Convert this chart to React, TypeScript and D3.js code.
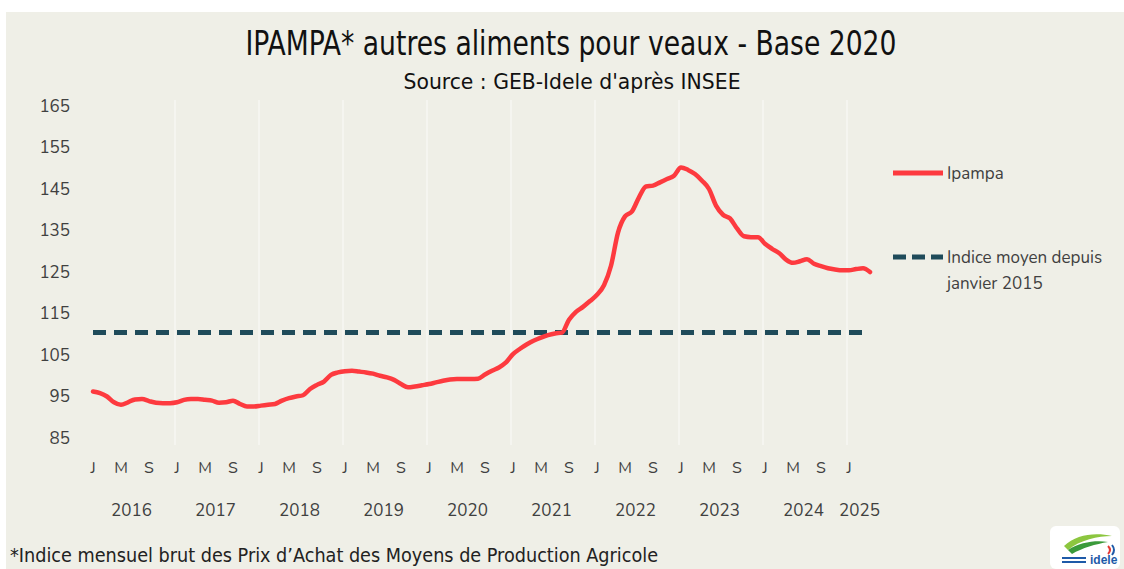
import React from "react";
import * as d3 from "d3";

const title = "IPAMPA* autres aliments pour veaux - Base 2020";
const subtitle = "Source : GEB-Idele d'après INSEE";
const footnote = "*Indice mensuel brut des Prix d\u2019Achat des Moyens de Production Agricole";

const years = [2016, 2017, 2018, 2019, 2020, 2021, 2022, 2023, 2024, 2025];
const monthLetters = ["J", "M", "S"];
const yTicks = [85, 95, 105, 115, 125, 135, 145, 155, 165];

// Monthly index, January 2016 -> April 2025
const ipampa = [
  96.2, 95.8, 95.0, 93.6, 93.0, 93.6, 94.3, 94.4, 93.9, 93.5, 93.4, 93.4,
  93.6, 94.2, 94.4, 94.4, 94.2, 94.0, 93.5, 93.6, 94.0, 93.2, 92.6, 92.6,
  92.8, 93.0, 93.2, 94.0, 94.6, 95.0, 95.3, 96.8, 97.8, 98.6, 100.2, 100.8,
  101.1, 101.2, 101.0, 100.8, 100.5, 100.0, 99.6, 99.0, 98.0, 97.2, 97.4, 97.7,
  98.0, 98.4, 98.8, 99.1, 99.2, 99.2, 99.2, 99.3, 100.3, 101.2, 102.0, 103.2,
  105.2, 106.5, 107.6, 108.5, 109.2, 109.8, 110.2, 110.4, 113.5, 115.4, 116.6, 118.0,
  119.5, 121.8, 126.5, 134.5, 138.4, 139.6, 143.0, 145.6, 145.8, 146.6, 147.4, 148.2,
  150.2, 149.6, 148.6, 147.0, 145.0, 141.0, 138.8, 137.9, 135.5, 133.6, 133.4, 133.4,
  131.8, 130.6, 129.6, 128.0, 127.2, 127.6, 128.1, 127.0, 126.4, 125.9, 125.6, 125.4,
  125.4, 125.7, 125.9, 125.0,
];
const averageIndex = 110.4;
const averageMonths = 111; // dashed mean line drawn Jan 2016 -> Mar 2025

const RED = "#fd3a3f";
const DARK = "#1f4b5a";
const TEXT = "#404040";
const BG = "#efefe7";

export default function App() {
  const x = d3.scaleLinear().domain([0, 111]).range([93, 870]);
  const y = d3.scaleLinear().domain([85, 165]).range([438, 106]);

  const line = d3
    .line<number>()
    .x((_, i) => x(i))
    .y((d) => y(d))
    .curve(d3.curveMonotoneX);

  const avgData = d3.range(averageMonths).map(() => averageIndex);

  const monthTicks = d3.range(0, ipampa.length, 4);

  const axisFont = "Nunito, Lato, 'Open Sans', sans-serif";
  const condFont = "'Liberation Sans Narrow', 'DejaVu Sans Condensed', 'Roboto Condensed', sans-serif";

  return (
    <svg
      width={1124}
      height={569}
      viewBox="0 0 1124 569"
      style={{ position: "absolute", left: 0, top: 0, display: "block" }}
    >
      <rect x={0} y={0} width={1124} height={569} fill="#ffffff" />
      <rect x={6} y={12} width={1118} height={557} fill={BG} />

      {/* vertical year gridlines */}
      {years.slice(1).map((yr, k) => {
        const gx = x((k + 1) * 12) - 2;
        return (
          <line key={yr} x1={gx} x2={gx} y1={100} y2={445} stroke="#ffffff" strokeWidth={1.5} opacity={0.55} />
        );
      })}

      {/* title */}
      <text
        x={571}
        y={55}
        textAnchor="middle"
        fontFamily={condFont}
        fontSize={34}
        fill="#111"
        textLength={651}
        lengthAdjust="spacingAndGlyphs"
      >
        {title}
      </text>
      <text
        x={572}
        y={89}
        textAnchor="middle"
        fontFamily={condFont}
        fontSize={21}
        fill="#111"
        textLength={337}
        lengthAdjust="spacingAndGlyphs"
      >
        {subtitle}
      </text>

      {/* y tick labels */}
      {yTicks.map((t) => (
        <text key={t} x={70} y={y(t)} textAnchor="end" dominantBaseline="central" fontFamily={axisFont} fontSize={17} fill={TEXT}>
          {t}
        </text>
      ))}

      {/* month labels */}
      {monthTicks.map((i) => (
        <text key={i} x={x(i)} y={468} textAnchor="middle" dominantBaseline="central" fontFamily={axisFont} fontSize={16} fill={TEXT}>
          {monthLetters[(i / 4) % 3]}
        </text>
      ))}

      {/* year labels */}
      {years.map((yr, k) => {
        const start = k * 12;
        const end = Math.min(start + 11, ipampa.length - 1);
        return (
          <text key={yr} x={x((start + end) / 2)} y={510} textAnchor="middle" dominantBaseline="central" fontFamily={axisFont} fontSize={17} fill={TEXT}>
            {yr}
          </text>
        );
      })}

      {/* average dashed line */}
      <path d={line(avgData) || ""} fill="none" stroke={DARK} strokeWidth={5} strokeDasharray="13 8" />

      {/* ipampa line */}
      <path d={line(ipampa) || ""} fill="none" stroke={RED} strokeWidth={4.5} strokeLinejoin="round" strokeLinecap="round" />

      {/* legend */}
      <line x1={893} x2={943} y1={173} y2={173} stroke={RED} strokeWidth={5} />
      <text x={947} y={173} dominantBaseline="central" fontFamily={axisFont} fontSize={17} fill={TEXT}>
        Ipampa
      </text>
      <line x1={893} x2={943} y1={257} y2={257} stroke={DARK} strokeWidth={5} strokeDasharray="13 6" />
      <text x={947} y={257} dominantBaseline="central" fontFamily={axisFont} fontSize={17} fill={TEXT}>
        Indice moyen depuis
      </text>
      <text x={947} y={283} dominantBaseline="central" fontFamily={axisFont} fontSize={17} fill={TEXT}>
        janvier 2015
      </text>

      {/* footnote */}
      <text x={10} y={562} fontFamily={condFont} fontSize={20} fill="#222" textLength={648} lengthAdjust="spacingAndGlyphs">
        {footnote}
      </text>

      {/* logo */}
      <g transform="translate(1050,526)">
        <rect x={0} y={0} width={70} height={43} rx={6} fill="#ffffff" />
        <path d="M 14 20 C 26 8, 46 6, 62 10 C 48 10, 30 14, 18 24 Z" fill="#8cc63f" />
        <path d="M 18 24 C 30 16, 46 14, 58 16 C 46 18, 32 22, 22 28 Z" fill="#3a9a3a" />
        <path d="M 58 20 q 4 4 0 8" fill="none" stroke="#e53935" strokeWidth={2} />
        <path d="M 62 19 q 4 5 0 10" fill="none" stroke="#1e5aa8" strokeWidth={2} />
        <rect x={12} y={31} width={24} height={2} fill="#1e5aa8" />
        <rect x={12} y={35} width={24} height={2} fill="#1e5aa8" />
        <text x={40} y={38} fontFamily="'Liberation Sans', sans-serif" fontWeight="bold" fontSize={12} fill="#1e5aa8">
          idele
        </text>
      </g>
    </svg>
  );
}
